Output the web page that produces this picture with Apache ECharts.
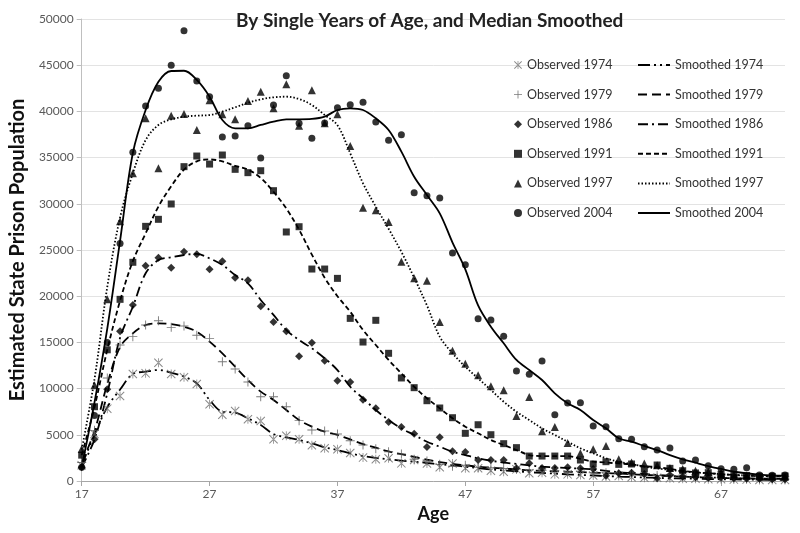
<!DOCTYPE html>
<html><head><meta charset="utf-8">
<script src="https://cdn.jsdelivr.net/npm/echarts@6/dist/echarts.min.js"></script>
<style>html,body{margin:0;padding:0;background:#fff}#c{width:800px;height:533px}</style>
</head><body><div id="c"></div>
<script>
var ages = [17,18,19,20,21,22,23,24,25,26,27,28,29,30,31,32,33,34,35,36,37,38,39,40,41,42,43,44,45,46,47,48,49,50,51,52,53,54,55,56,57,58,59,60,61,62,63,64,65,66,67,68,69,70,71,72];
var xTicks = [17,27,37,47,57,67];

var obs1974 = [1700,5100,7830,9200,11580,11650,12800,11580,11220,10500, 8300,7180,7580,6680,6490,4510,4900,4510,3860,3540, 3430,3030,2530,2350,2460,1910,2270,1900,1480,1900, 1370,1370,1120,1010,1260,830,900,720,720,650, 600,500,550,400,350,350,300,250,250,200, 200,150,150,100,100,100];
var obs1979 = [2000,5480,11150,14720,15620,16880,17350,16630,16770,15770, 15440,12910,12120,10710,9120,9120,8040,6530,5520,5410, 5090,4360,3900,3500,3170,2920,2350,2160,1800,1600, 1700,1450,1450,1350,1300,1200,1150,1100,1000,1050, 900,900,750,800,650,600,550,500,450,400, 350,300,300,250,250,200];
var obs1986 = [1500,4510,9920,16200,19050,23300,24170,23090,24820,24530, 22910,23770,22000,21720,18900,17210,16200,13500,14970,13020, 10860,10710,8800,7870,6390,5840,5120,3680,4730,3210, 3140,2270,2270,2270,1370,1910,1410,1410,1480,1370, 1300,570,830,900,760,290,650,500,400,350, 400,300,250,250,200,200];
var obs1991 = [2800,8040,14200,19660,23670,27560,28320,29980,34020,35170, 34300,35280,33730,33370,33580,31420,26950,27520,22940,22940, 21930,17600,15040,17390,13820,11150,10100,8690,7900,6850, 5160,6090,5010,4040,3610,2700,2700,2700,2700,2270, 1840,2090,1800,1840,1300,1730,1370,1110,870,900, 700,650,600,500,500,550];
var obs1997 = [3460,10350,19660,28100,33300,39250,33840,39540,39720,37990, 41200,39680,39140,41120,42130,40330,42930,38450,42280,38710, 39680,36260,29580,29290,28030,23740,21930,21680,17210,14100, 12700,11440,10250,9810,7030,9090,5380,5840,4100,3000, 3430,3790,2350,2000,1900,1700,1400,1300,1100,1000, 900,700,600,500,500,450];
var obs2004 = [1500,7100,15000,25700,35570,40580,42500,45000,48730,43290, 41590,37230,37340,38450,34960,40690,43860,38710,37090,38750, 40400,40730,40980,38850,36870,37480,31200,30880,30630,24680, 23410,17570,17420,15660,11900,11550,12990,7180,8440,8470, 5950,5880,4580,4510,3720,3350,3570,2160,2270,1660, 1330,1260,1440,650,610,650];

var sm1974 = [1700,5000,8000,9900,11580,11830,12010,11720,11290,10570, 8770,7500,7390,6790,6060,5090,4730,4440,4080,3650, 3350,3000,2700,2500,2350,2200,2100,1950,1800,1700, 1550,1400,1250,1150,1050,950,870,800,720,650, 600,540,480,430,380,340,300,270,240,210, 190,170,150,140,130,120];
var sm1979 = [2000,5400,10500,14500,15980,16880,17060,16990,16700,16160, 15080,13820,12370,10930,9670,8770,7680,6600,5880,5340, 4980,4500,4000,3600,3200,2900,2600,2300,2050,1850, 1700,1550,1450,1350,1250,1150,1100,1050,1000,950, 900,850,800,730,670,600,540,480,430,380, 340,300,280,260,240,220];
var sm1986 = [1500,4500,9500,15500,18860,22480,23920,24210,24460,24570, 24100,23380,22290,21390,19590,17970,16340,15260,14360,13280, 12010,10200,8950,7680,6600,5700,4980,4250,3710,3170, 2810,2450,2200,2000,1850,1700,1550,1480,1400,1350, 1250,1100,950,850,750,650,550,480,420,380, 340,300,270,250,230,220];
var sm1991 = [2800,8000,14200,19500,23800,26800,29700,31900,33700,34600, 34800,34600,34100,33700,32800,31300,29500,27200,24500,22000, 20000,18320,16340,14720,13100,11650,10200,8950,7870,6790, 5880,5160,4440,3900,3350,2810,2700,2700,2700,2400, 2100,2000,1900,1800,1600,1500,1300,1100,950,850, 750,650,580,520,500,480];
var sm1997 = [3400,11000,21000,28500,33300,36900,38530,39140,39430,39540, 39610,39970,40440,40940,41300,41520,41590,41340,40690,39610, 38500,35460,32220,29690,27300,24800,22000,19000,15620,13820, 12370,11110,9850,8580,7500,6600,5700,4980,4250,3540, 3000,2460,2090,1840,1550,1370,1200,1050,930,830, 740,660,600,550,520,500];
var sm2004 = [1500,8500,16500,26000,35500,40150,43200,44370,44400,43400, 41590,39070,38170,38170,38530,38890,39140,39140,39180,39430, 40150,40330,40150,39250,37990,35640,32930,30950,28970,25800, 22900,19000,16700,14900,13100,12010,10930,9490,8410,7680, 6600,5700,4620,4250,3790,3350,2810,2350,1980,1620, 1300,1010,830,680,600,580];

var years = ['1974','1979','1986','1991','1997','2004'];
var observed = [obs1974, obs1979, obs1986, obs1991, obs1997, obs2004];
var smoothed = [sm1974, sm1979, sm1986, sm1991, sm1997, sm2004];

function pairs(vals){ return ages.map(function(a,i){ return [a, vals[i]]; }); }

var FONT = 'Lato, "Open Sans", "Liberation Sans", sans-serif';
var asteriskPath = 'path://M0,0.8L0.8,0L10,9.2L9.2,10Z M10,0.8L9.2,0L0,9.2L0.8,10Z M4.55,0H5.45V10H4.55Z';
var plusPath = 'path://M4.5,0H5.5V4.5H10V5.5H5.5V10H4.5V5.5H0V4.5H4.5Z';
var symbols = [asteriskPath, plusPath, 'diamond', 'rect', 'triangle', 'circle'];
var symSizes = [9, 9, 8, 7, 8, 7];
var symColors = ['#6b6b6b', '#555555', '#000', '#000', '#000', '#000'];
var dashTypes = [[12,4,2,4,2,4],[9,5],[10,4,2,4],[5,3],[1.5,2],'solid'];

var series = [];
years.forEach(function(y, i){
  series.push({
    name: 'Observed ' + y, type: 'scatter', data: pairs(observed[i]),
    symbol: symbols[i], symbolSize: symSizes[i],
    itemStyle: { color: symColors[i] }, z: 3
  });
});
years.forEach(function(y, i){
  series.push({
    name: 'Smoothed ' + y, type: 'line', data: pairs(smoothed[i]),
    symbol: 'none', smooth: 0.35,
    lineStyle: { color: '#000', width: 1.8, type: dashTypes[i] },
    itemStyle: { color: '#000' }, z: 2
  });
});

var chart = echarts.init(document.getElementById('c'), null, {renderer: 'canvas'});
chart.setOption({
  animation: false,
  textStyle: { fontFamily: FONT },
  title: {
    text: 'By Single Years of Age, and Median Smoothed',
    left: 231, top: 6,
    textStyle: { fontFamily: FONT, fontSize: 19, fontWeight: 'bold', color: '#222' }
  },
  grid: { left: 76, right: 15, top: 19, bottom: 52 },
  xAxis: {
    type: 'value', min: 17, max: 72, interval: 10,
    name: 'Age', nameLocation: 'middle', nameGap: 18,
    nameTextStyle: { fontFamily: FONT, fontSize: 18, fontWeight: 'bold', color: '#111' },
    axisLine: { show: true, lineStyle: { color: '#a6a6a6', width: 1 } },
    axisTick: { show: true, length: 5, lineStyle: { color: '#a6a6a6' } },
    axisLabel: { color: '#595959', fontSize: 12, margin: 7, showMaxLabel: false,
      formatter: function(v){ return xTicks.indexOf(v) >= 0 ? String(v) : ''; } },
    splitLine: { show: false }
  },
  yAxis: {
    type: 'value', min: 0, max: 50000, interval: 5000,
    name: 'Estimated State Prison Population', nameLocation: 'middle', nameGap: 50, nameRotate: 90,
    nameTextStyle: { fontFamily: FONT, fontSize: 20, fontWeight: 'bold', color: '#111' },
    axisLine: { show: true, lineStyle: { color: '#bfbfbf', width: 1 } },
    axisTick: { show: true, length: 5, lineStyle: { color: '#bfbfbf' } },
    axisLabel: { color: '#595959', fontSize: 12, margin: 8,
      formatter: function(v){ return String(v); } },
    splitLine: { show: true, lineStyle: { color: '#e3e3e3', width: 1 } }
  },
  legend: [
    {
      data: years.map(function(y){ return 'Observed ' + y; }),
      orient: 'vertical', left: 509, top: 53, itemGap: 15.6,
      itemWidth: 8, itemHeight: 8,
      textStyle: { fontFamily: FONT, fontSize: 12.5, color: '#333', lineHeight: 14 }
    },
    {
      data: years.map(function(y){ return 'Smoothed ' + y; }),
      orient: 'vertical', left: 632, top: 53, itemGap: 15.6,
      itemWidth: 32, itemHeight: 8,
      itemStyle: { opacity: 0 },
      textStyle: { fontFamily: FONT, fontSize: 12.5, color: '#333', lineHeight: 14 }
    }
  ],
  series: series
});
</script>
</body></html>
